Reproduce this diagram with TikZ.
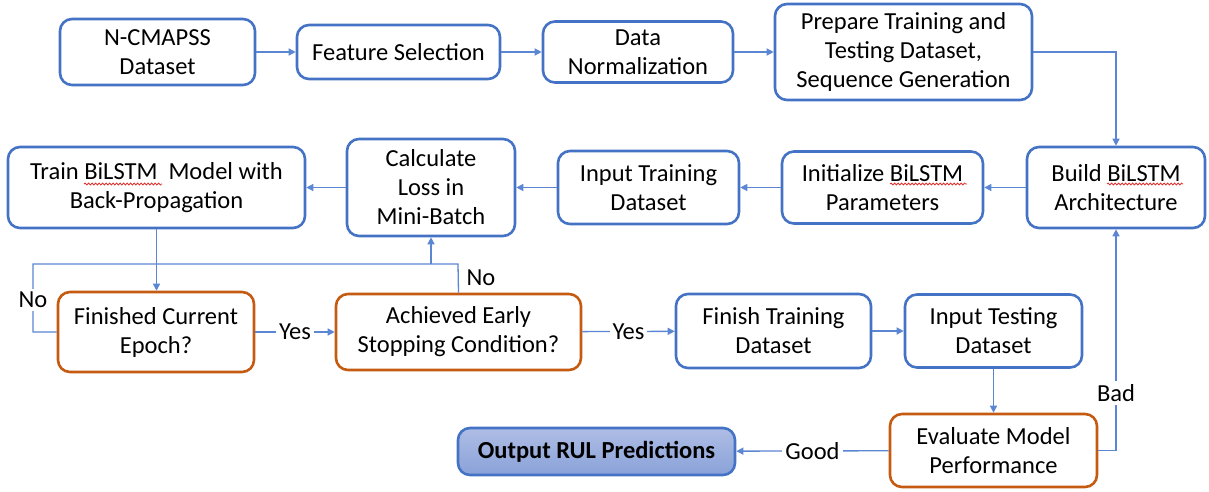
\documentclass[tikz,border=0pt]{standalone}
\usepackage{fontspec}
\setmainfont{Carlito}
\usetikzlibrary{arrows.meta,decorations.pathmorphing}

\definecolor{boxblue}{HTML}{4472C4}
\definecolor{decorange}{HTML}{C55A11}
\definecolor{linkblue}{HTML}{5A86D2}
\definecolor{outtop}{HTML}{AEBDE4}
\definecolor{outbot}{HTML}{8AA2D9}
\definecolor{spellred}{HTML}{E03030}

\tikzset{
  proc/.style={draw=boxblue, line width=2.6pt, rounded corners=12pt, fill=white,
    align=center, inner sep=2pt, font=\fontsize{24.5}{29}\selectfont},
  decide/.style={proc, draw=decorange},
  result/.style={proc, top color=outtop, bottom color=outbot,
    font=\fontsize{24.5}{29}\selectfont\bfseries},
  link/.style={draw=linkblue, line width=1.3pt, -{Triangle[length=7pt,width=7pt]}},
  plainlink/.style={draw=linkblue, line width=1.3pt},
  lbl/.style={fill=white, inner sep=3pt, font=\fontsize{24.5}{29}\selectfont},
  spellmark/.style={draw=spellred, line width=0.8pt, decorate,
    decoration={snake, amplitude=1pt, segment length=3.5pt}}
}

\begin{document}
\begin{tikzpicture}[x=1pt,y=-1pt]
\useasboundingbox (0,0) rectangle (1209,491);

% first row
\node[proc, minimum width=195pt, minimum height=66pt] (ncm)  at (157.5,52)  {N-CMAPSS\\Dataset};
\node[proc, minimum width=203pt, minimum height=54pt] (feat) at (398.5,52)  {Feature Selection};
\node[proc, minimum width=190pt, minimum height=61pt] (norm) at (638,52)    {Data\\Normalization};
\node[proc, minimum width=257pt, minimum height=96pt] (prep) at (903.5,52)  {Prepare Training and\\Testing Dataset,\\Sequence Generation};

% second row
\node[proc, minimum width=178pt, minimum height=81pt] (build) at (1116,187.5) {Build BiLSTM\\Architecture};
\node[proc, minimum width=201pt, minimum height=72pt] (init)  at (882.5,187.5) {Initialize BiLSTM\\Parameters};
\node[proc, minimum width=181pt, minimum height=73pt] (intr)  at (648.5,187.5) {Input Training\\Dataset};
\node[proc, minimum width=168pt, minimum height=97pt] (calc)  at (431,187.5)   {Calculate\\Loss in\\Mini-Batch};
\node[proc, minimum width=297pt, minimum height=81pt] (train) at (156.5,187.5) {Train BiLSTM\ \ Model with\\Back-Propagation};

% red wavy marks under the word BiLSTM
\draw[spellmark] (84,184) -- (162,184);
\draw[spellmark] (890,184) -- (967,184);
\draw[spellmark] (1107,184) -- (1183,184);

% third row
\node[decide, minimum width=196pt, minimum height=80pt] (fin) at (156,332)   {Finished Current\\Epoch?};
\node[decide, minimum width=245pt, minimum height=76pt] (ach) at (458.5,332) {Achieved Early\\Stopping Condition?};
\node[proc, minimum width=195pt, minimum height=74pt] (ftr)  at (773.5,331)  {Finish Training\\Dataset};
\node[proc, minimum width=177pt, minimum height=73pt] (its)  at (993.5,331)  {Input Testing\\Dataset};

% fourth row
\node[decide, minimum width=207pt, minimum height=73pt] (eval) at (993.5,450.5) {Evaluate Model\\Performance};
\node[result, minimum width=277pt, minimum height=47pt] (out)  at (596.5,451.5) {Output RUL Predictions};

% forward flow
\draw[link] (ncm) -- (feat);
\draw[link] (feat) -- (norm);
\draw[link] (norm) -- (prep);
\draw[link] (prep.east) -| (build.north);
\draw[link] (build) -- (init);
\draw[link] (init) -- (intr);
\draw[link] (intr) -- (calc);
\draw[link] (calc) -- (train);
\draw[link] (train.south) -- (train.south |- fin.north);

% loop back to the next mini-batch
\coordinate (loopleft) at (33,264);
\coordinate (loopright) at (458,264);
\draw[plainlink] (fin.west) -| (loopleft) -- (loopright) -- (ach.north);
\draw[link] (calc.south |- loopleft) -- (calc.south);
\node[lbl] (nofin) at (33,300) {No};
\node[lbl, fill=none] (noach) at (481,278) {No};

\draw[link] (fin) -- node[lbl] (yesfin) {Yes} (ach);
\draw[link] (ach) -- node[lbl] (yesach) {Yes} (ftr);
\draw[link] (ftr) -- (its);
\draw[link] (its.south) -- (its.south |- eval.north);

% evaluation outcome
\draw[link] (eval.east) -| (build.south);
\node[lbl] (bad) at (1116,393) {Bad};
\draw[link] (eval) -- node[lbl] (good) {Good} (out);
\end{tikzpicture}
\end{document}
